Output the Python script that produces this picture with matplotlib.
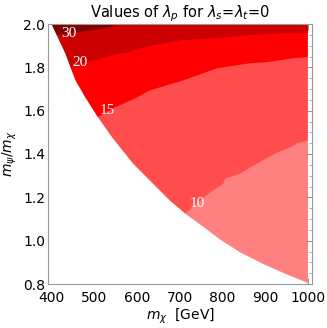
import matplotlib
matplotlib.use("Agg")
import matplotlib.pyplot as plt
from matplotlib.ticker import MultipleLocator, FormatStrFormatter

# ---- data ----
# lower (white) boundary of allowed region: m_chi, m_psi/m_chi
bound_x = [400, 432, 456, 479, 509, 542, 561, 591, 638, 678, 713, 755, 795, 842, 896, 943, 1000]
bound_y = [2.0, 1.866, 1.741, 1.662, 1.569, 1.477, 1.430, 1.356, 1.263, 1.184, 1.125, 1.065, 1.005, 0.946, 0.892, 0.851, 0.805]

# contour lines (lambda_p levels)
c10_x = [713, 771, 802, 807, 842, 865, 928, 959, 975, 1000]
c10_y = [1.125, 1.222, 1.263, 1.286, 1.310, 1.337, 1.407, 1.430, 1.449, 1.462]
c15_x = [507, 549, 596, 631, 709, 788, 865, 905, 966, 1000]
c15_y = [1.569, 1.615, 1.657, 1.694, 1.740, 1.796, 1.819, 1.824, 1.842, 1.847]
c20_x = [449, 503, 542, 573, 620, 643, 709, 788, 865, 943, 1000]
c20_y = [1.810, 1.833, 1.856, 1.866, 1.893, 1.903, 1.926, 1.935, 1.949, 1.958, 1.958]
c30_x = [413, 463, 514, 556, 566]
c30_y = [1.949, 1.963, 1.977, 1.995, 2.0]

levels = ["10", "15", "20", "30"]
label_x = [742, 531, 466, 440]
label_y = [1.17, 1.60, 1.82, 1.957]

colors = ["#ff8080", "#ff4d4d", "#ff0000", "#cc0000", "#7d0000"]

fig = plt.figure(figsize=(3.27, 3.28), dpi=100)
ax = fig.add_axes([48/327, 1-284/328, (312-48)/327, (284-24)/328])

xmin, xmax = 392, 1010
ymin, ymax = 0.8, 2.0

# base region (lightest)
ax.fill([400, 1000, 1000, 400], [2.0, 2.0, 0.5, 0.5], color=colors[0], lw=0, zorder=1)

def fill_above(cx, cy, col, z):
    px = list(cx) + [1000, 400, 400]
    py = list(cy) + [2.0, 2.0, 0.5]
    ax.fill(px, py, color=col, lw=0, zorder=z)

fill_above(c10_x, c10_y, colors[1], 2)
fill_above(c15_x, c15_y, colors[2], 3)
fill_above(c20_x, c20_y, colors[3], 4)
fill_above(c30_x, c30_y, colors[4], 5)

# white area below boundary
wx = list(bound_x) + [1000, 395, 395]
wy = list(bound_y) + [0.5, 0.5, 2.0]
ax.fill(wx, wy, color="white", lw=0, zorder=6)

for t, lx, ly in zip(levels, label_x, label_y):
    ax.text(lx, ly, t, color="white", fontsize=11, family="Liberation Serif",
            ha="center", va="center", zorder=7)

ax.set_xlim(xmin, xmax)
ax.set_ylim(ymin, ymax)
ax.xaxis.set_major_locator(MultipleLocator(100))
ax.xaxis.set_minor_locator(MultipleLocator(20))
ax.yaxis.set_major_locator(MultipleLocator(0.2))
ax.yaxis.set_minor_locator(MultipleLocator(0.05))
ax.yaxis.set_major_formatter(FormatStrFormatter("%.1f"))
ax.tick_params(which="both", direction="in", top=True, right=True, color="#888888")
ax.tick_params(which="major", length=4, width=0.6, labelsize=10)
ax.tick_params(axis="x", which="major", pad=5)
ax.tick_params(axis="y", which="major", pad=2)
ax.tick_params(which="minor", length=2, width=0.5)
for s in ax.spines.values():
    s.set_color("#999999")
    s.set_linewidth(0.8)
    s.set_zorder(10)

ax.set_xlabel(r"$m_\chi$  [GeV]", fontsize=10, labelpad=1)
ax.set_ylabel(r"$m_\psi/m_\chi$", fontsize=10, labelpad=3)
ax.set_title(r"Values of $\lambda_p$ for $\lambda_s$=$\lambda_t$=0", fontsize=10.5, pad=3)

fig.savefig("out.png", dpi=100)
